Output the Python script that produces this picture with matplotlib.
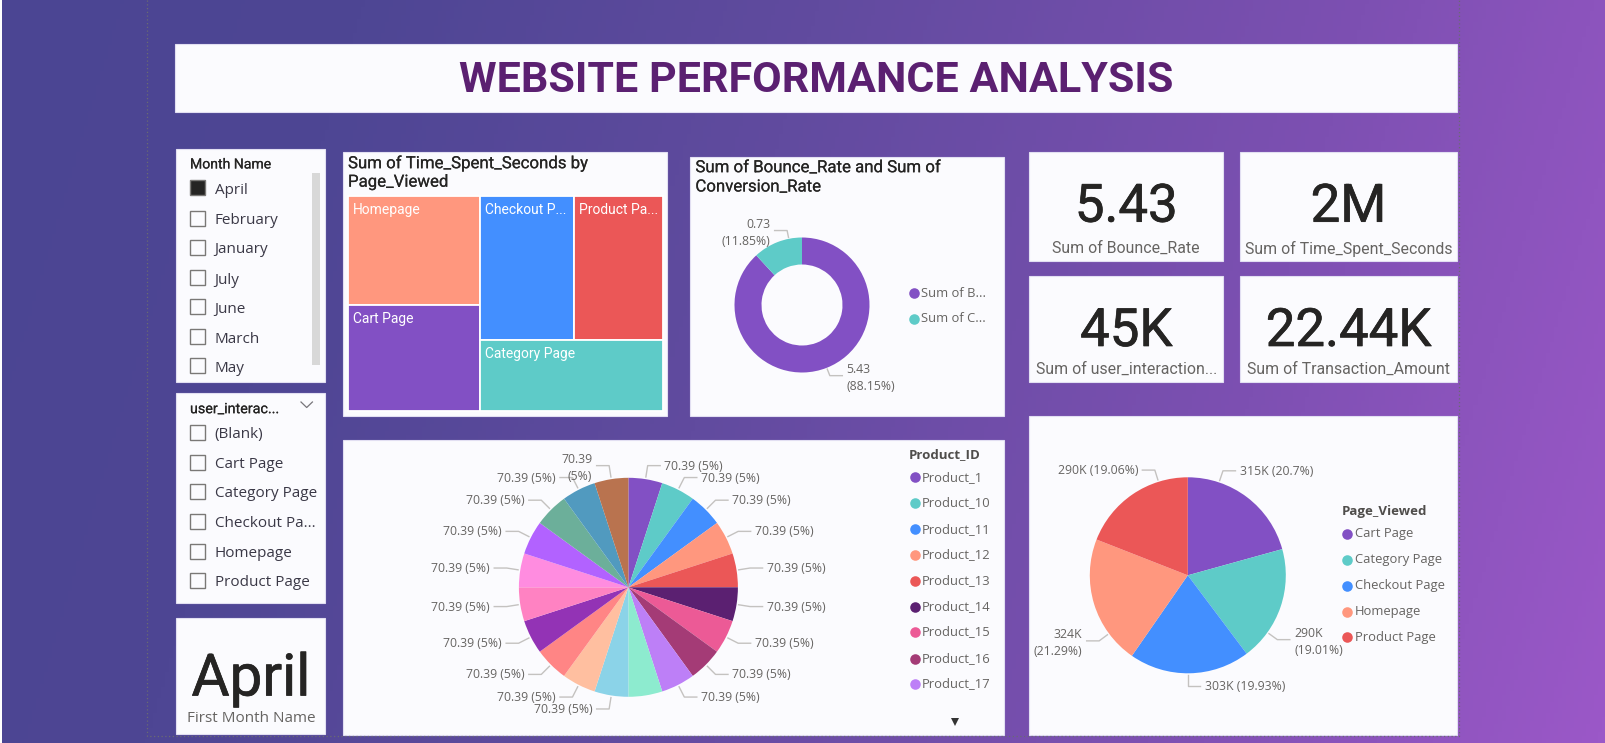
import numpy as np
import matplotlib
matplotlib.use('Agg')
import matplotlib.pyplot as plt
import matplotlib.patheffects as pe
from matplotlib.colors import LinearSegmentedColormap
from matplotlib.patches import Rectangle

W, H = 1606, 743
DIN = 'Roboto'
UI = 'Open Sans'

# data
months = ['April', 'February', 'January', 'July', 'June', 'March', 'May']
interactions = ['(Blank)', 'Cart Page', 'Category Page', 'Checkout Pa...', 'Homepage', 'Product Page']

pages = ['Cart Page', 'Category Page', 'Checkout Page', 'Homepage', 'Product Page']
page_time = [315, 290, 303, 324, 290]
page_colors = ['#8250C4', '#5ECBC8', '#438FFF', '#FF977E', '#EB5757']
page_labels = ['315K (20.7%)', '290K\n(19.01%)', '303K (19.93%)', '324K\n(21.29%)', '290K (19.06%)']
page_label_angles = [18.6, 125.7, 180, 233.5, 342.6]

rate_names = ['Sum of B...', 'Sum of C...']
rate_values = [5.43, 0.73]
rate_colors = ['#8250C4', '#5ECBC8']
rate_labels = ['5.43\n(88.15%)', '0.73\n(11.85%)']
rate_label_angles = [158.5, 348.7]

product_ids = ['Product_1', 'Product_10', 'Product_11', 'Product_12', 'Product_13',
               'Product_14', 'Product_15', 'Product_16', 'Product_17']
product_values = [70.39] * 20
product_colors = ['#8250C4', '#5ECBC8', '#438FFF', '#FF977E', '#EB5757', '#5B2071', '#EC5A96',
                  '#A43B76', '#BD7FF7', '#8DEBCF', '#8BD3E8', '#FFBFA0', '#FF8585', '#9333B5',
                  '#FF82C2', '#FF8CE0', '#B262FF', '#6CAF9A', '#519ABF', '#B9734F']
product_labels = ['70.39 (5%)'] * 19 + ['70.39\n(5%)']
product_labels[9] = None   # this slice has no label in the report

kpi_values = ['5.43', '2M', '45K', '22.44K']
kpi_names = ['Sum of Bounce_Rate', 'Sum of Time_Spent_Seconds',
             'Sum of user_interaction...', 'Sum of Transaction_Amount']

PANEL = '#FBFBFE'
EDGE = '#E2DFF2'
DARK = '#252423'
GREY = '#666462'
LEADER = '#C4C2C0'

fig = plt.figure(figsize=(W / 100, H / 100), dpi=100)
ax = fig.add_axes([0, 0, 1, 1])

# purple background gradient, slightly tilted
cmap = LinearSegmentedColormap.from_list('bg', [(0, '#4B4593'), (0.2, '#4E4694'), (0.45, '#614B9F'),
                                                (0.75, '#7D50B2'), (1, '#9B58C8')])
xx, yy = np.meshgrid(np.linspace(0, 1, 400), np.linspace(0, 1, 200))
ax.imshow(0.88 * xx + 0.12 * yy, cmap=cmap, extent=[0, W, H, 0], aspect='auto', vmin=0, vmax=1)
ax.set_xlim(0, W)
ax.set_ylim(H, 0)
ax.axis('off')
ax.add_patch(Rectangle((0, 0), 2, H, fc='white', ec='none'))
ax.plot([147.5, 147.5, 1459, 1459], [0, 736, 736, 0], color='#6A6A72', lw=0.9, ls=(0, (1, 2)), zorder=5)


def panel(x0, y0, x1, y1):
    ax.add_patch(Rectangle((x0, y0), x1 - x0, y1 - y0, fc=PANEL, ec=EDGE, lw=0.8))


def label(x, y, s, size, color=DARK, ha='left', family=UI, thick=0, **kw):
    t = ax.text(x, y, s, fontsize=size, color=color, ha=ha, va='center_baseline', family=family, **kw)
    if thick:
        # DIN is a bit heavier than Roboto regular
        t.set_path_effects([pe.withStroke(linewidth=thick, foreground=color)])


def slicer(items, top, selected=None):
    for i, item in enumerate(items):
        yc = top[i]
        ax.add_patch(Rectangle((190.5, yc - 7.5), 15, 15, ec='#7A7876', lw=1,
                               fc=DARK if item == selected else PANEL))
        label(214.7, yc + 0.5, item, 11, color='#3A3846')


def legend(x, y_title, ys, title, names):
    if title:
        label(x - 5.5, y_title - 2, title, 9.5, color='#4F4D4B', weight='bold')
    for yc, name, col in zip(ys, names, product_colors):
        ax.plot(x, yc, 'o', ms=7.6, color=col, mew=0)
        label(x + 7.5, yc - 1.5, name, 9.4, color=GREY)


def pie_axes(cx, cy, r):
    pa = fig.add_axes([(cx - r) / W, 1 - (cy + r) / H, 2 * r / W, 2 * r / H])
    pa.set_xlim(-1, 1)
    pa.set_ylim(-1, 1)
    pa.axis('off')
    return pa


def leaders(pa, r, angles, texts, size=8.8):
    # line goes out radially to the elbow, then flat for a few pixels up to the text
    for ang, txt in zip(angles, texts):
        if txt is None:
            continue
        a = np.radians(ang)
        sx, sy = np.sin(a), np.cos(a)
        side = 1 if sx >= -1e-9 else -1
        ex, ey = 1.125 * sx, 1.125 * sy
        flat = ex + side * 12.5 / r
        pa.plot([1.02 * sx, ex, flat], [1.02 * sy, ey, ey], color=LEADER, lw=1, clip_on=False)
        pa.text(flat + side * 4.3 / r, ey + 1 / r, txt, fontsize=size, color=GREY, family=UI,
                va='center_baseline', ha='left' if side > 0 else 'right', linespacing=1.35, clip_on=False)


# title
panel(175, 44, 1457, 111.5)
label(816.5, 76, 'WEBSITE PERFORMANCE ANALYSIS', 31, color='#5B2071', ha='center', family=DIN, weight='bold')

# slicers
panel(176.5, 149, 325.5, 382)
label(190, 163, 'Month Name', 10.1, family=DIN, thick=0.1)
slicer(months, [187.7, 218, 247, 277.7, 306.7, 336.7, 365.7], selected='April')
ax.add_patch(Rectangle((312, 173), 8, 192, fc='#D8D8D8', ec='none'))

panel(176.5, 392.7, 325.5, 603.3)
label(190, 407.7, 'user_interac...', 10.3, family=DIN, thick=0.1)
ax.plot([301, 306.7, 312.4], [402, 407.5, 402], color='#77757A', lw=0.9)
slicer(interactions, [432.3, 462, 491, 521, 551, 580])

panel(176.5, 617.7, 325.5, 734)
label(251, 674, 'April', 42, ha='center', family=DIN, thick=0.5)
label(251, 716.7, 'First Month Name', 11, color=GREY, ha='center')

# treemap, laid out from the page totals
panel(342.6, 152, 667.5, 416)
label(348, 161.7, 'Sum of Time_Spent_Seconds by', 12.1, family=DIN, thick=0.1)
label(348, 180.7, 'Page_Viewed', 12.1, family=DIN, thick=0.1)
tx0, ty0, tx1, ty1 = 348, 196, 663.5, 410.7
home, cart, checkout, category, product = page_time[3], page_time[0], page_time[2], page_time[1], page_time[4]
total = sum(page_time)
xa = tx0 + (tx1 - tx0) * (home + cart) / total
ya = ty0 + (ty1 - ty0) * home / (home + cart)
yb = ty0 + (ty1 - ty0) * (checkout + product) / (checkout + product + category)
xb = xa + (tx1 - xa) * checkout / (checkout + product)
cells = [(tx0, ty0, xa, ya, page_colors[3], 'Homepage'),
         (tx0, ya, xa, ty1, page_colors[0], 'Cart Page'),
         (xa, ty0, xb, yb, page_colors[2], 'Checkout P...'),
         (xb, ty0, tx1, yb, page_colors[4], 'Product Pa...'),
         (xa, yb, tx1, ty1, page_colors[1], 'Category Page')]
for x0, y0, x1, y1, col, name in cells:
    ax.add_patch(Rectangle((x0, y0), x1 - x0, y1 - y0, fc=col, ec='white', lw=1.3))
    label(x0 + 5, y0 + 12.5, name, 10, color='white', family=DIN)

# donut
panel(690, 156.7, 1004.5, 415.7)
label(695.4, 166.2, 'Sum of Bounce_Rate and Sum of', 12.1, family=DIN, thick=0.1)
label(695.4, 185.5, 'Conversion_Rate', 12.1, family=DIN, thick=0.1)
pa = pie_axes(802, 305, 67.5)
pa.pie(rate_values, colors=rate_colors, startangle=90, counterclock=False, radius=1,
       wedgeprops=dict(width=0.4, linewidth=0))
pa.set_xlim(-1, 1)
pa.set_ylim(-1, 1)
leaders(pa, 67.5, rate_label_angles, rate_labels)
legend(913.8, None, [293.3, 319], None, rate_names)

# KPI cards
cards = [(1029, 151.7, 1223.5, 261), (1240, 151.7, 1457, 261), (1029, 276, 1223.5, 381.7), (1240, 276, 1457, 381.7)]
for (x0, y0, x1, y1), val, name in zip(cards, kpi_values, kpi_names):
    panel(x0, y0, x1, y1)
    label((x0 + x1) / 2, y0 + 50, val, 38, ha='center', family=DIN, thick=0.5)
    label((x0 + x1) / 2, y1 - 14, name, 11.4, color=GREY, ha='center', family=DIN)

# product pie
panel(342.6, 440, 1004, 734.5)
pa = pie_axes(628.4, 587.3, 109.5)
pa.pie(product_values, colors=product_colors, startangle=90, counterclock=False, radius=1,
       wedgeprops=dict(linewidth=0))
pa.set_xlim(-1, 1)
pa.set_ylim(-1, 1)
mid = (np.arange(len(product_values)) + 0.5) * 360 / len(product_values)
leaders(pa, 109.5, mid, product_labels)
legend(914.6, 455, [477.3, 503, 529.3, 555, 581, 606.5, 632, 659, 684], 'Product_ID', product_ids)
ax.plot(955, 721.5, 'v', ms=5.5, color='#333333', mew=0)

# page pie
panel(1029, 416, 1457, 735)
pa = pie_axes(1187.8, 575.3, 98)
pa.pie(page_time, colors=page_colors, startangle=90, counterclock=False, radius=1,
       wedgeprops=dict(linewidth=0))
pa.set_xlim(-1, 1)
pa.set_ylim(-1, 1)
leaders(pa, 98, page_label_angles, page_labels)
legend(1347.4, 512, [534, 560, 586, 612, 637], 'Page_Viewed', pages)

fig.savefig('out.png', dpi=100)
